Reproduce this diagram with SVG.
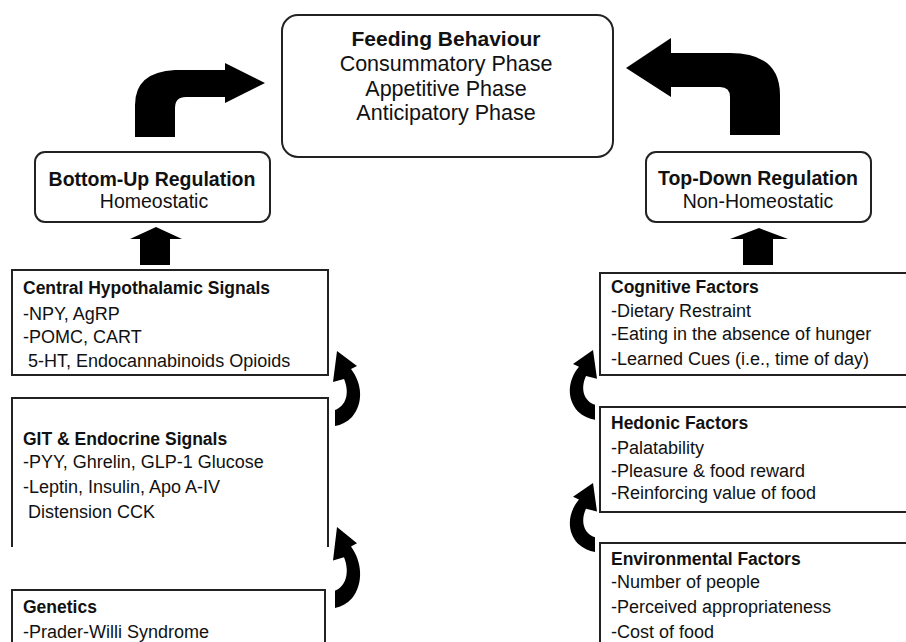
<svg xmlns="http://www.w3.org/2000/svg" width="906" height="642" viewBox="0 0 906 642">
<style>
  text { font-family: "Liberation Sans", Arial, sans-serif; fill: #111; }
  .t { font-size: 21.5px; text-anchor: middle; }
  .tb { font-size: 21px; font-weight: bold; text-anchor: middle; }
  .r { font-size: 19.5px; text-anchor: middle; }
  .rb { font-size: 19.5px; font-weight: bold; text-anchor: middle; }
  .h { font-size: 17.5px; font-weight: bold; }
  .b { font-size: 18px; }
  .box { fill: #fff; stroke: #222; stroke-width: 2; }
  .arr { fill: #000; stroke: none; }
</style>
<defs>
  <path id="curl" d="M4,0 L24,15 L18,18 C29,32 31,52 19,66 C14,71 8,74 2,75 L2,59 C13,55 17,42 11,28 L0,31 Z"/>
</defs>
<rect width="906" height="642" fill="#fff"/>

<g id="feeding">
  <rect class="box" x="282" y="15" width="331" height="142" rx="16" stroke-width="2.5"/>
  <text class="tb" x="446" y="46">Feeding Behaviour</text>
  <text class="t" x="446" y="71">Consummatory Phase</text>
  <text class="t" x="446" y="96">Appetitive Phase</text>
  <text class="t" x="446" y="120">Anticipatory Phase</text>
</g>

<g id="bottom-up">
  <rect class="box" x="35" y="152" width="235" height="70" rx="10"/>
  <text class="rb" x="152" y="186">Bottom-Up Regulation</text>
  <text class="r" x="154" y="208">Homeostatic</text>
</g>

<g id="top-down">
  <rect class="box" x="646" y="152" width="225" height="70" rx="10"/>
  <text class="rb" x="758" y="185">Top-Down Regulation</text>
  <text class="r" x="758" y="208">Non-Homeostatic</text>
</g>

<g id="central">
  <rect class="box" x="12" y="270" width="316" height="105"/>
  <text class="h" x="23" y="294">Central Hypothalamic Signals</text>
  <text class="b" x="23" y="320">-NPY, AgRP</text>
  <text class="b" x="23" y="343">-POMC, CART</text>
  <text class="b" x="28" y="367">5-HT, Endocannabinoids  Opioids</text>
</g>

<g id="git">
  <path class="box" d="M12,547 L12,398 L328,398 L328,547" fill="none"/>
  <text class="h" x="23" y="445">GIT &amp; Endocrine Signals</text>
  <text class="b" x="23" y="468">-PYY, Ghrelin, GLP-1  Glucose</text>
  <text class="b" x="23" y="493">-Leptin, Insulin, Apo A-IV</text>
  <text class="b" x="28" y="518">Distension  CCK</text>
</g>

<g id="genetics">
  <path class="box" d="M12,650 L12,590 L325,590 L325,650" fill="none"/>
  <text class="h" x="23" y="613">Genetics</text>
  <text class="b" x="23" y="638">-Prader-Willi Syndrome</text>
</g>

<g id="cognitive">
  <path class="box" d="M910,273 L600,273 L600,375 L910,375" fill="#fff"/>
  <text class="h" x="611" y="293">Cognitive Factors</text>
  <text class="b" x="611" y="317">-Dietary Restraint</text>
  <text class="b" x="611" y="340">-Eating in the absence of hunger</text>
  <text class="b" x="611" y="365">-Learned Cues (i.e., time of day)</text>
</g>

<g id="hedonic">
  <path class="box" d="M910,407 L600,407 L600,512 L910,512" fill="#fff"/>
  <text class="h" x="611" y="429">Hedonic Factors</text>
  <text class="b" x="611" y="454">-Palatability</text>
  <text class="b" x="611" y="477">-Pleasure &amp; food reward</text>
  <text class="b" x="611" y="499">-Reinforcing value of food</text>
</g>

<g id="environmental">
  <path class="box" d="M910,543 L600,543 L600,650" fill="#fff"/>
  <text class="h" x="611" y="565">Environmental Factors</text>
  <text class="b" x="611" y="588">-Number of people</text>
  <text class="b" x="611" y="613">-Perceived appropriateness</text>
  <text class="b" x="611" y="638">-Cost of food</text>
</g>

<g id="connectors">
  <path class="arr" d="M135,137 L135,105 Q135,72 175,70 L225,70 L225,63 L265,83 L225,103 L225,97 L186,97 Q175,97 175,108 L175,137 Z"/>
  <path class="arr" d="M780,135 L780,95 Q780,53 730,53 L671,53 L671,38 L626,68 L671,97 L671,87 L720,87 Q730,87 730,97 L730,135 Z"/>
  <path class="arr" d="M140,265 L140,239 L130,239 L156,227 L182,239 L170,239 L170,265 Z"/>
  <path class="arr" d="M743,265 L743,239 L730,239 L759,228 L788,239 L773,239 L773,265 Z"/>
  <use href="#curl" class="arr" transform="translate(333,351)"/>
  <use href="#curl" class="arr" transform="translate(333,527) scale(1,1.08)"/>
  <use href="#curl" class="arr" transform="translate(597,350) scale(-1,0.93)"/>
  <use href="#curl" class="arr" transform="translate(597,483) scale(-1,0.92)"/>
</g>
</svg>
